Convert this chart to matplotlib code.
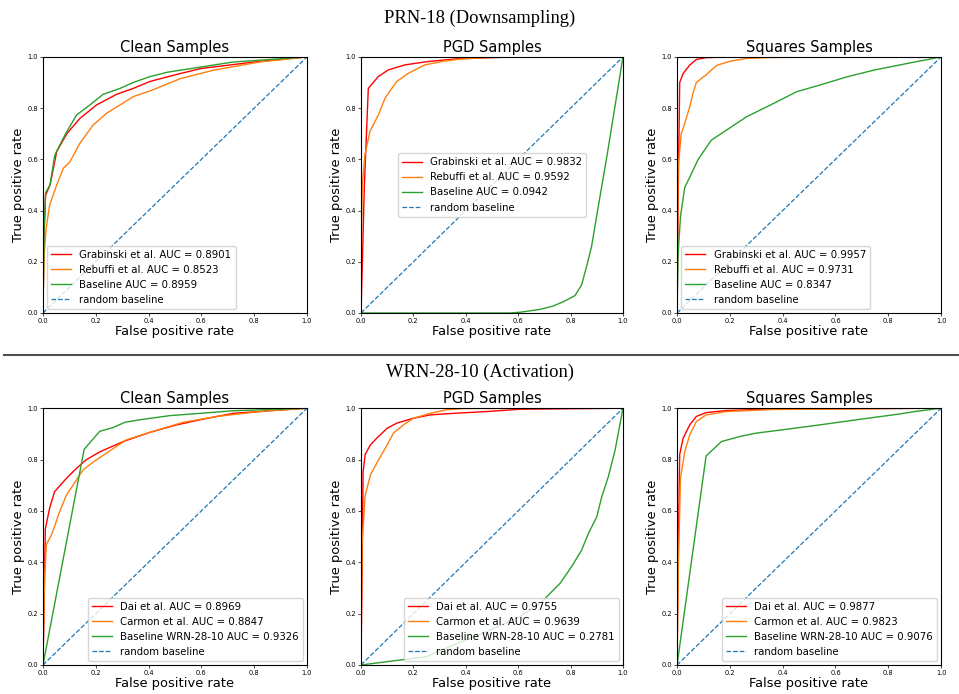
import matplotlib
matplotlib.use("Agg")
import matplotlib.pyplot as plt
from matplotlib.lines import Line2D

# ---- PRN-18 (Downsampling) ----
prn_clean_grab_fpr = [0, 0.004, 0.01, 0.027, 0.052, 0.09, 0.14, 0.203, 0.279, 0.342, 0.405, 0.5, 0.6, 0.8, 1.0]
prn_clean_grab_tpr = [0, 0.30, 0.46, 0.50, 0.63, 0.70, 0.76, 0.8125, 0.854, 0.877, 0.904, 0.93, 0.955, 0.98, 1.0]
prn_clean_rebu_fpr = [0, 0.004, 0.012, 0.025, 0.052, 0.077, 0.102, 0.14, 0.19, 0.241, 0.292, 0.342, 0.405, 0.52, 0.645, 0.82, 1.0]
prn_clean_rebu_tpr = [0, 0.22, 0.33, 0.42, 0.50, 0.565, 0.59, 0.663, 0.734, 0.78, 0.8125, 0.845, 0.867, 0.915, 0.948, 0.98, 1.0]
prn_clean_base_fpr = [0, 0.004, 0.01, 0.0265, 0.045, 0.083, 0.127, 0.178, 0.228, 0.292, 0.342, 0.405, 0.47, 0.595, 0.72, 1.0]
prn_clean_base_tpr = [0, 0.32, 0.47, 0.50, 0.617, 0.695, 0.773, 0.8125, 0.854, 0.877, 0.90, 0.923, 0.94, 0.96, 0.98, 1.0]

prn_pgd_grab_fpr = [0, 0.004, 0.013, 0.028, 0.066, 0.104, 0.168, 0.257, 0.359, 0.48, 0.6, 1.0]
prn_pgd_grab_tpr = [0, 0.15, 0.50, 0.877, 0.923, 0.949, 0.969, 0.982, 0.992, 0.997, 1.0, 1.0]
prn_pgd_rebu_fpr = [0, 0.002, 0.005, 0.015, 0.034, 0.066, 0.092, 0.136, 0.181, 0.244, 0.32, 0.384, 0.48, 0.6, 1.0]
prn_pgd_rebu_tpr = [0, 0.30, 0.50, 0.617, 0.708, 0.773, 0.839, 0.904, 0.936, 0.969, 0.984, 0.992, 0.997, 1.0, 1.0]
prn_pgd_base_fpr = [0, 0.57, 0.607, 0.683, 0.733, 0.772, 0.817, 0.842, 0.861, 0.88, 0.897, 0.91, 0.94, 0.97, 1.0]
prn_pgd_base_tpr = [0, 0, 0.003, 0.014, 0.027, 0.044, 0.068, 0.109, 0.181, 0.259, 0.363, 0.441, 0.62, 0.81, 1.0]

prn_sq_grab_fpr = [0, 0.004, 0.01, 0.023, 0.048, 0.073, 0.11, 0.2, 1.0]
prn_sq_grab_tpr = [0, 0.44, 0.90, 0.935, 0.968, 0.99, 0.997, 1.0, 1.0]
prn_sq_rebu_fpr = [0, 0.004, 0.016, 0.029, 0.048, 0.06, 0.073, 0.11, 0.15, 0.2, 0.263, 0.36, 1.0]
prn_sq_rebu_tpr = [0, 0.57, 0.70, 0.74, 0.805, 0.857, 0.90, 0.93, 0.967, 0.983, 0.994, 0.998, 1.0]
prn_sq_base_fpr = [0, 0.004, 0.013, 0.029, 0.048, 0.08, 0.13, 0.187, 0.263, 0.365, 0.453, 0.54, 0.643, 0.744, 0.87, 1.0]
prn_sq_base_tpr = [0, 0.23, 0.377, 0.49, 0.53, 0.60, 0.675, 0.714, 0.766, 0.818, 0.864, 0.89, 0.922, 0.948, 0.974, 1.0]

# ---- WRN-28-10 (Activation) ----
wrn_clean_dai_fpr = [0, 0.004, 0.009, 0.025, 0.044, 0.089, 0.127, 0.165, 0.215, 0.304, 0.405, 0.506, 0.595, 0.72, 1.0]
wrn_clean_dai_tpr = [0, 0.21, 0.53, 0.61, 0.675, 0.727, 0.766, 0.80, 0.83, 0.87, 0.906, 0.935, 0.955, 0.98, 1.0]
wrn_clean_car_fpr = [0, 0.006, 0.013, 0.032, 0.044, 0.063, 0.089, 0.114, 0.152, 0.19, 0.24, 0.316, 0.405, 0.53, 0.658, 0.85, 1.0]
wrn_clean_car_tpr = [0, 0.34, 0.47, 0.506, 0.54, 0.597, 0.662, 0.70, 0.76, 0.79, 0.825, 0.877, 0.906, 0.945, 0.968, 0.99, 1.0]
wrn_clean_base_fpr = [0, 0.156, 0.215, 0.266, 0.31, 0.367, 0.48, 0.595, 0.72, 1.0]
wrn_clean_base_tpr = [0, 0.84, 0.91, 0.925, 0.945, 0.955, 0.971, 0.98, 0.99, 1.0]

wrn_pgd_dai_fpr = [0, 0.004, 0.008, 0.016, 0.036, 0.06, 0.1, 0.137, 0.2, 0.264, 0.353, 0.48, 0.607, 1.0]
wrn_pgd_dai_tpr = [0, 0.34, 0.75, 0.82, 0.857, 0.883, 0.922, 0.942, 0.961, 0.974, 0.98, 0.987, 0.996, 1.0]
wrn_pgd_car_fpr = [0, 0.004, 0.016, 0.036, 0.06, 0.1, 0.124, 0.162, 0.2, 0.264, 0.327, 0.4, 1.0]
wrn_pgd_car_tpr = [0, 0.47, 0.66, 0.74, 0.786, 0.857, 0.903, 0.935, 0.961, 0.98, 0.994, 0.999, 1.0]
wrn_pgd_base_fpr = [0, 0.1, 0.25, 0.353, 0.48, 0.607, 0.69, 0.76, 0.804, 0.842, 0.868, 0.90, 0.919, 0.944, 0.97, 1.0]
wrn_pgd_base_tpr = [0, 0.013, 0.032, 0.078, 0.13, 0.188, 0.246, 0.318, 0.383, 0.447, 0.512, 0.577, 0.655, 0.733, 0.837, 1.0]

wrn_sq_dai_fpr = [0, 0.004, 0.01, 0.023, 0.048, 0.073, 0.11, 0.187, 0.365, 1.0]
wrn_sq_dai_tpr = [0, 0.40, 0.82, 0.883, 0.935, 0.968, 0.983, 0.991, 0.997, 1.0]
wrn_sq_car_fpr = [0, 0.004, 0.013, 0.029, 0.048, 0.073, 0.11, 0.187, 0.365, 1.0]
wrn_sq_car_tpr = [0, 0.34, 0.727, 0.83, 0.896, 0.948, 0.974, 0.987, 0.995, 1.0]
wrn_sq_base_fpr = [0, 0.11, 0.168, 0.238, 0.30, 0.40, 0.54, 0.68, 0.846, 0.90, 1.0]
wrn_sq_base_tpr = [0, 0.814, 0.87, 0.89, 0.903, 0.916, 0.935, 0.955, 0.978, 0.987, 1.0]

prn_names = ["Grabinski et al.", "Rebuffi et al.", "Baseline"]
wrn_names = ["Dai et al.", "Carmon et al.", "Baseline WRN-28-10"]
prn_auc = {"Clean": [0.8901, 0.8523, 0.8959], "PGD": [0.9832, 0.9592, 0.0942], "Squares": [0.9957, 0.9731, 0.8347]}
wrn_auc = {"Clean": [0.8969, 0.8847, 0.9326], "PGD": [0.9755, 0.9639, 0.2781], "Squares": [0.9877, 0.9823, 0.9076]}

COLORS = ["red", "tab:orange", "tab:green"]
COL_LEFT = [0.0448, 0.3764, 0.706]
COL_W = [0.2753, 0.2732, 0.2753]


def roc_panel(fig, rect, curves, names, aucs, title, loc):
    ax = fig.add_axes(rect)
    for (fpr, tpr), name, auc, c in zip(curves, names, aucs, COLORS):
        ax.plot(fpr, tpr, color=c, lw=1.0, label=f"{name} AUC = {auc:.4f}")
    ax.plot([0, 1], [0, 1], "--", color="tab:blue", lw=0.9, label="random baseline")
    ax.set_xlim(0, 1); ax.set_ylim(0, 1)
    ax.set_xticks([0, 0.2, 0.4, 0.6, 0.8, 1.0]); ax.set_yticks([0, 0.2, 0.4, 0.6, 0.8, 1.0])
    ax.tick_params(labelsize=4.8, length=2, width=0.5, pad=1.5)
    ax.set_title(title, fontsize=10.5, pad=3.5)
    ax.set_xlabel("False positive rate", fontsize=9.4, labelpad=1)
    ax.set_ylabel("True positive rate", fontsize=9.4, labelpad=2)
    ax.legend(loc=loc, fontsize=7.3, handlelength=2.0, borderaxespad=0.4)
    return ax


fig = plt.figure(figsize=(9.59, 6.94), dpi=100)

prn_curves = {
    "Clean": [(prn_clean_grab_fpr, prn_clean_grab_tpr), (prn_clean_rebu_fpr, prn_clean_rebu_tpr), (prn_clean_base_fpr, prn_clean_base_tpr)],
    "PGD": [(prn_pgd_grab_fpr, prn_pgd_grab_tpr), (prn_pgd_rebu_fpr, prn_pgd_rebu_tpr), (prn_pgd_base_fpr, prn_pgd_base_tpr)],
    "Squares": [(prn_sq_grab_fpr, prn_sq_grab_tpr), (prn_sq_rebu_fpr, prn_sq_rebu_tpr), (prn_sq_base_fpr, prn_sq_base_tpr)],
}
wrn_curves = {
    "Clean": [(wrn_clean_dai_fpr, wrn_clean_dai_tpr), (wrn_clean_car_fpr, wrn_clean_car_tpr), (wrn_clean_base_fpr, wrn_clean_base_tpr)],
    "PGD": [(wrn_pgd_dai_fpr, wrn_pgd_dai_tpr), (wrn_pgd_car_fpr, wrn_pgd_car_tpr), (wrn_pgd_base_fpr, wrn_pgd_base_tpr)],
    "Squares": [(wrn_sq_dai_fpr, wrn_sq_dai_tpr), (wrn_sq_car_fpr, wrn_sq_car_tpr), (wrn_sq_base_fpr, wrn_sq_base_tpr)],
}

top_locs = ["lower left", "center", "lower left"]
for i, key in enumerate(["Clean", "PGD", "Squares"]):
    roc_panel(fig, [COL_LEFT[i], 0.549, COL_W[i], 0.369], prn_curves[key], prn_names,
              prn_auc[key], f"{key} Samples", top_locs[i])
    roc_panel(fig, [COL_LEFT[i], 0.0418, COL_W[i], 0.370], wrn_curves[key], wrn_names,
              wrn_auc[key], f"{key} Samples", "lower right")

fig.text(0.5, 0.974, "PRN-18 (Downsampling)", ha="center", va="center",
         fontsize=13.3, family="Liberation Serif")
fig.text(0.5, 0.464, "WRN-28-10 (Activation)", ha="center", va="center",
         fontsize=13.3, family="Liberation Serif")
fig.add_artist(Line2D([0.004, 1.0], [0.4885, 0.4885], transform=fig.transFigure,
                      color="#505050", lw=1.5))

fig.savefig("out.png", dpi=100)
